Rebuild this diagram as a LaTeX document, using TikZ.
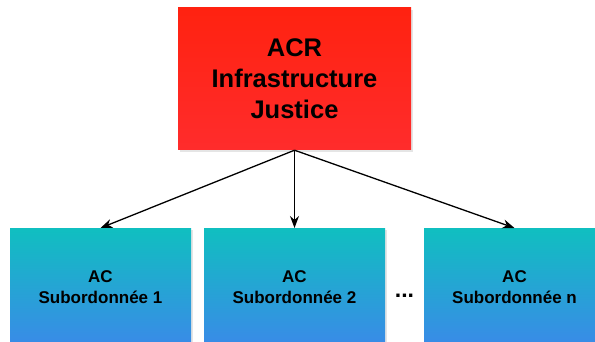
\documentclass[tikz,border=0pt]{standalone}
\usepackage{fontspec}
\setmainfont{Liberation Sans}
\usetikzlibrary{arrows.meta, positioning, shadows}
\definecolor{rougehaut}{HTML}{FF2210}
\definecolor{rougebas}{HTML}{FF2C2C}
\definecolor{bleuhaut}{HTML}{10BFC0}
\definecolor{bleubas}{HTML}{3A8AE8}
\tikzset{
    racine/.style={top color=rougehaut, bottom color=rougebas, draw=none,
        minimum width=233pt, minimum height=142pt, align=center,
        font=\bfseries\fontsize{25.5}{31}\selectfont,
        drop shadow={shadow xshift=2pt, shadow yshift=-2pt, opacity=0.2}},
    fille/.style={top color=bleuhaut, bottom color=bleubas, draw=none,
        minimum width=181pt, minimum height=118pt, align=center,
        font=\bfseries\fontsize{17}{21}\selectfont,
        drop shadow={shadow xshift=2pt, shadow yshift=-2pt, opacity=0.2}},
    lien/.style={-{Stealth[length=12pt,width=9pt]}, line width=1.3pt},
}

\begin{document}
\begin{tikzpicture}[x=1pt, y=-1pt]
\useasboundingbox (0,0) rectangle (595,342);
\clip (0,0) rectangle (595,342);
\fill[white] (0,0) rectangle (595,342);
% autorite racine
\node[racine] (acr) at (294.5,79) {ACR\\Infrastructure\\Justice};
% autorites subordonnees
\node[fille, anchor=north] (ac1) at (100.5,228) {AC\\Subordonnée 1};
\node[fille, anchor=north] (ac2) at (294.5,228) {AC\\Subordonnée 2};
\node[fille, anchor=north] (acn) at (514.5,228) {AC\\Subordonnée n};
\node[font=\bfseries\fontsize{23}{25}\selectfont] (pts) at (404.5,296) {...};
\foreach \cible in {ac1, ac2, acn} {
    \draw[lien] (acr.south) -- (\cible.north);
}
\end{tikzpicture}
\end{document}
